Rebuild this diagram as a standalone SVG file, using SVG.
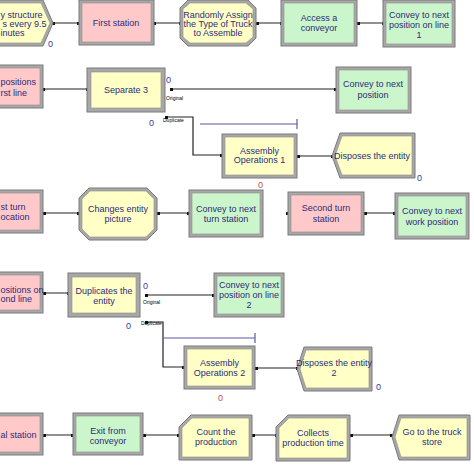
<svg xmlns="http://www.w3.org/2000/svg" width="474" height="474" viewBox="0 0 474 474">
<style>
.bg{fill:#ffffff}
.fr{fill:#a8a8a8;stroke:#7a7a7a;stroke-width:1}
.in{stroke:#8c8c8c;stroke-width:0.6}
.pink{fill:#ffc9c9}
.green{fill:#cbf5cb}
.yellow{fill:#ffffc6}
.t{font-family:"Liberation Sans",Arial,sans-serif;font-size:9px;fill:#2c2c78;text-anchor:middle}
.ts{font-family:"Liberation Sans",Arial,sans-serif;font-size:9px;fill:#2c2c78;text-anchor:start}
.z{font-family:"Liberation Sans",Arial,sans-serif;font-size:9px;fill:#3a3aa8}
.zr{font-family:"Liberation Sans",Arial,sans-serif;font-size:9px;fill:#c05050}
.s{font-family:"Liberation Sans",Arial,sans-serif;font-size:5px;fill:#000}
.ln{fill:none;stroke:#222;stroke-width:1.2}
.bar{fill:none;stroke:#5a5aa8;stroke-width:1.2}
.dot{fill:#111}
</style>
<rect class="bg" x="0" y="0" width="474" height="474"/>

<g id="connectors">
<path class="ln" d="M53,23H79M154,23H180M257,23H281M358,23H383"/>
<path class="ln" d="M43,89H87M171,89H336M166,117H193V155H222M298,156H332"/>
<path class="ln" d="M44,213H79M158,213H189M365,213H395"/>
<path class="ln" d="M44,293H68M146,295H214M146,322H163V367H184M256,368H297"/>
<path class="ln" d="M44,435H73M144,435H179M253,435H276M351,435H392"/>
<g class="dot">
<rect x="52" y="22" width="3" height="3"/><rect x="77" y="22" width="3" height="3"/>
<rect x="153" y="22" width="3" height="3"/><rect x="179" y="22" width="3" height="3"/>
<rect x="256" y="22" width="3" height="3"/><rect x="280" y="22" width="3" height="3"/>
<rect x="357" y="22" width="3" height="3"/><rect x="382" y="22" width="3" height="3"/>
<rect x="42" y="88" width="3" height="3"/><rect x="86" y="88" width="3" height="3"/>
<rect x="170" y="88" width="3" height="3"/><rect x="334" y="88" width="3" height="3"/>
<rect x="165" y="116" width="3" height="3"/><rect x="220" y="154" width="3" height="3"/>
<rect x="297" y="155" width="3" height="3"/><rect x="331" y="155" width="3" height="3"/>
<rect x="43" y="212" width="3" height="3"/><rect x="77" y="212" width="3" height="3"/>
<rect x="157" y="212" width="3" height="3"/><rect x="187" y="212" width="3" height="3"/>
<rect x="286" y="212" width="3" height="3"/>
<rect x="364" y="212" width="3" height="3"/><rect x="393" y="212" width="3" height="3"/>
<rect x="43" y="292" width="3" height="3"/><rect x="67" y="292" width="3" height="3"/>
<rect x="145" y="294" width="3" height="3"/><rect x="212" y="294" width="3" height="3"/>
<rect x="145" y="321" width="3" height="3"/><rect x="182" y="366" width="3" height="3"/>
<rect x="255" y="367" width="3" height="3"/><rect x="296" y="367" width="3" height="3"/>
<rect x="43" y="434" width="3" height="3"/><rect x="71" y="434" width="3" height="3"/>
<rect x="143" y="434" width="3" height="3"/><rect x="177" y="434" width="3" height="3"/>
<rect x="252" y="434" width="3" height="3"/><rect x="275" y="434" width="3" height="3"/>
<rect x="350" y="434" width="3" height="3"/><rect x="390" y="434" width="3" height="3"/>
</g>
<path class="bar" d="M200,124H297M297,119V129M163,338H255M255,333V343"/>
<text class="s" x="166" y="100">Original</text>
<text class="s" x="163" y="122">Duplicate</text>
<text class="s" x="143" y="304">Original</text>
<text class="s" x="141" y="325">Duplicate</text>
</g>

<!-- Row 1 -->
<g id="create1">
<polygon class="fr" points="-10,0 43,0 53,23 43,46 -10,46"/>
<polygon class="yellow in" points="-10,3 41,3 50,23 41,43 -10,43"/>
<text class="ts" x="0.5" y="18">y structure</text>
<text class="ts" x="2.5" y="27">s every 9.5</text>
<text class="ts" x="0.5" y="36">inutes</text>
<text class="z" x="48" y="47">0</text>
</g>
<g id="first_station">
<rect class="fr" x="79" y="0" width="75" height="45"/>
<rect class="pink in" x="82" y="3" width="69" height="39"/>
<text class="t" x="116" y="26">First station</text>
</g>
<g id="assign">
<polygon class="fr" points="188,0 248,0 256,8 256,38 248,46 188,46 180,38 180,8"/>
<polygon class="yellow in" points="190,3 246,3 253,9 253,37 246,43 190,43 183,37 183,9"/>
<text class="t" x="218" y="18">Randomly Assign</text>
<text class="t" x="218" y="27">the Type of Truck</text>
<text class="t" x="218" y="36">to Assemble</text>
</g>
<g id="access">
<rect class="fr" x="281" y="0" width="76" height="46"/>
<rect class="green in" x="284" y="3" width="70" height="40"/>
<text class="t" x="319" y="21">Access a</text>
<text class="t" x="319" y="31">conveyor</text>
</g>
<g id="convey1">
<rect class="fr" x="383" y="0" width="72" height="47"/>
<rect class="green in" x="386" y="3" width="66" height="41"/>
<text class="t" x="419" y="18">Convey to next</text>
<text class="t" x="419" y="28">position on line</text>
<text class="t" x="419" y="38">1</text>
</g>

<!-- Row 2 -->
<g id="station2">
<rect class="fr" x="-10" y="65" width="53" height="43"/>
<rect class="pink in" x="-10" y="68" width="50" height="37"/>
<text class="ts" x="0.5" y="85">positions</text>
<text class="ts" x="0.5" y="96">rst line</text>
</g>
<g id="separate3">
<rect class="fr" x="87" y="68" width="78" height="44"/>
<rect class="yellow in" x="91" y="72" width="70" height="36"/>
<text class="t" x="126" y="93">Separate 3</text>
<text class="z" x="166" y="83">0</text>
<text class="z" x="149" y="126">0</text>
</g>
<g id="convey_pos">
<rect class="fr" x="336" y="67" width="75" height="46"/>
<rect class="green in" x="339" y="70" width="69" height="40"/>
<text class="t" x="373" y="87">Convey to next</text>
<text class="t" x="373" y="98">position</text>
</g>
<g id="assembly1">
<rect class="fr" x="222" y="134" width="75" height="44"/>
<rect class="yellow in" x="225" y="137" width="69" height="38"/>
<text class="t" x="259.5" y="154">Assembly</text>
<text class="t" x="259.5" y="163">Operations 1</text>
<text class="zr" x="258" y="188">0</text>
</g>
<g id="dispose1">
<polygon class="fr" points="340,133 415,133 415,178 340,178 332,156"/>
<polygon class="yellow in" points="342,136 412,136 412,175 342,175 335,156"/>
<text class="t" x="372" y="159">Disposes the entity</text>
<text class="z" x="417" y="181">0</text>
</g>

<!-- Row 3 -->
<g id="station3">
<rect class="fr" x="-10" y="190" width="53" height="43"/>
<rect class="pink in" x="-10" y="193" width="50" height="37"/>
<text class="ts" x="0.5" y="210">st turn</text>
<text class="ts" x="0.5" y="220">ocation</text>
</g>
<g id="changes_picture">
<polygon class="fr" points="89,188 147,188 157,198 157,230 147,240 89,240 79,230 79,198"/>
<polygon class="yellow in" points="90,191 146,191 154,199 154,229 146,237 90,237 82,229 82,199"/>
<text class="t" x="118" y="212">Changes entity</text>
<text class="t" x="118" y="222">picture</text>
</g>
<g id="convey_turn">
<rect class="fr" x="189" y="190" width="74" height="47"/>
<rect class="green in" x="192" y="193" width="68" height="41"/>
<text class="t" x="226" y="212">Convey to next</text>
<text class="t" x="226" y="222">turn station</text>
</g>
<g id="second_turn">
<rect class="fr" x="288" y="192" width="76" height="43"/>
<rect class="pink in" x="291" y="195" width="70" height="37"/>
<text class="t" x="326" y="211">Second turn</text>
<text class="t" x="326" y="222">station</text>
</g>
<g id="convey_work">
<rect class="fr" x="395" y="193" width="74" height="46"/>
<rect class="green in" x="398" y="196" width="68" height="40"/>
<text class="t" x="432" y="214">Convey to next</text>
<text class="t" x="432" y="225">work position</text>
</g>

<!-- Row 4 -->
<g id="station4">
<rect class="fr" x="-10" y="272" width="53" height="41"/>
<rect class="pink in" x="-10" y="275" width="50" height="35"/>
<text class="ts" x="0.5" y="293">ositions on</text>
<text class="ts" x="0.5" y="302">ond line</text>
</g>
<g id="duplicates">
<rect class="fr" x="68" y="273" width="72" height="44"/>
<rect class="yellow in" x="72" y="277" width="64" height="36"/>
<text class="t" x="104" y="294">Duplicates the</text>
<text class="t" x="104" y="304">entity</text>
<text class="z" x="143" y="289">0</text>
<text class="z" x="126" y="329">0</text>
</g>
<g id="convey2">
<rect class="fr" x="214" y="273" width="70" height="44"/>
<rect class="green in" x="217" y="276" width="64" height="38"/>
<text class="t" x="249" y="288">Convey to next</text>
<text class="t" x="249" y="298">position on line</text>
<text class="t" x="249" y="308">2</text>
</g>
<g id="assembly2">
<rect class="fr" x="184" y="346" width="71" height="43"/>
<rect class="yellow in" x="187" y="349" width="65" height="37"/>
<text class="t" x="219.5" y="366">Assembly</text>
<text class="t" x="219.5" y="376">Operations 2</text>
<text class="zr" x="218" y="401">0</text>
</g>
<g id="dispose2">
<polygon class="fr" points="304,347 372,347 372,391 304,391 297,369"/>
<polygon class="yellow in" points="306,350 369,350 369,388 306,388 300,369"/>
<text class="t" x="334" y="366">Disposes the entity</text>
<text class="t" x="334" y="376">2</text>
<text class="z" x="376" y="390">0</text>
</g>

<!-- Row 5 -->
<g id="station5">
<rect class="fr" x="-10" y="413" width="53" height="42"/>
<rect class="pink in" x="-10" y="416" width="50" height="36"/>
<text class="ts" x="0.5" y="438">al station</text>
</g>
<g id="exit">
<rect class="fr" x="73" y="413" width="70" height="42"/>
<rect class="green in" x="76" y="416" width="64" height="36"/>
<text class="t" x="108" y="434">Exit from</text>
<text class="t" x="108" y="444">conveyor</text>
</g>
<g id="count">
<polygon class="fr" points="191,415 252,415 252,460 179,460 179,427"/>
<polygon class="yellow in" points="192,418 249,418 249,457 182,457 182,428"/>
<text class="t" x="216" y="435">Count the</text>
<text class="t" x="216" y="445">production</text>
</g>
<g id="collects">
<polygon class="fr" points="288,415 350,415 350,461 276,461 276,427"/>
<polygon class="yellow in" points="289,418 347,418 347,458 279,458 279,428"/>
<text class="t" x="313" y="436">Collects</text>
<text class="t" x="313" y="446">production time</text>
</g>
<g id="goto">
<polygon class="fr" points="399,415 470,415 470,460 399,460 392,437"/>
<polygon class="yellow in" points="401,418 467,418 467,457 401,457 395,437"/>
<text class="t" x="432" y="435">Go to the truck</text>
<text class="t" x="432" y="445">store</text>
</g>
</svg>
